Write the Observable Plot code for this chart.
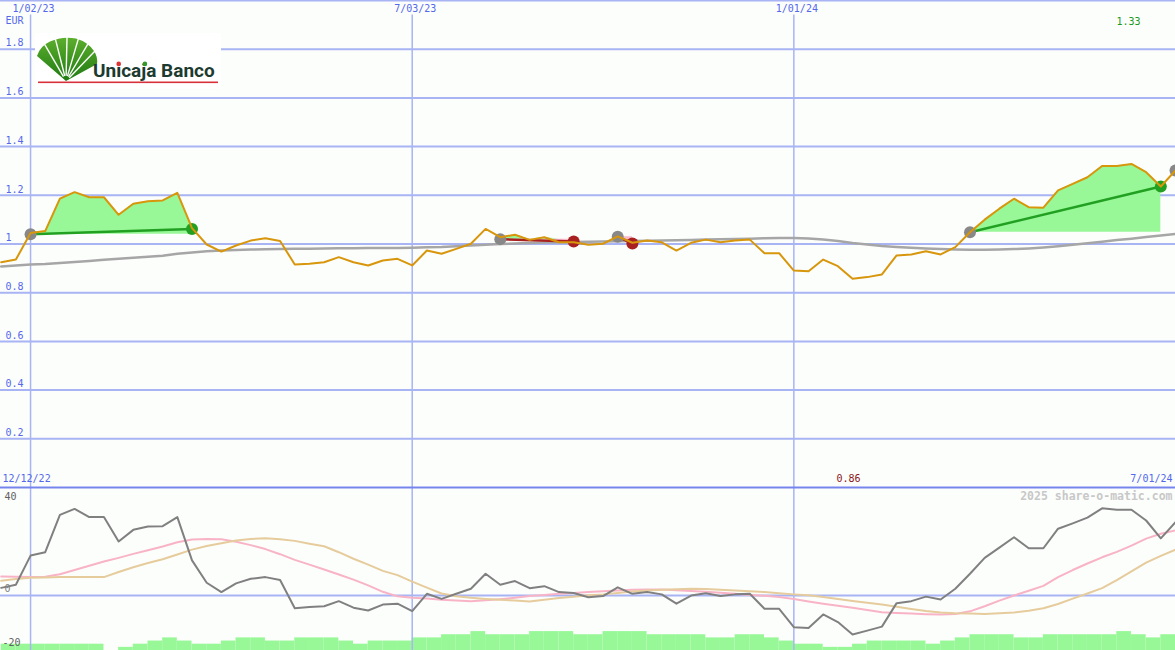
<!DOCTYPE html>
<html>
<head>
<meta charset="utf-8">
<script src="https://cdn.jsdelivr.net/npm/d3@7"></script>
<script src="https://cdn.jsdelivr.net/npm/@observablehq/plot@0.6"></script>
<style>
  html, body { margin: 0; padding: 0; background: #fcfefc; }
  #chart { position: relative; width: 1175px; height: 650px; overflow: hidden; background: #fcfefc; }
  #chart > svg, #chart > div { position: absolute; left: 0; }
</style>
</head>
<body>
<div id="chart"></div>
<script>
// ---------- DATA (weekly, Mondays, from 2022-12-19 to 2024-07-01) ----------
const startWeek = "2022-12-19";
const price = [
  0.925,0.936,1.045,1.053,1.186,1.213,1.192,1.192,1.120,1.165,
  1.176,1.179,1.210,1.065,0.998,0.969,0.994,1.014,1.024,1.012,
  0.916,0.919,0.925,0.946,0.925,0.912,0.932,0.939,0.912,0.973,
  0.960,0.980,1.001,1.062,1.028,1.038,1.017,1.028,1.007,1.007,
  0.997,1.001,1.031,1.005,1.014,1.007,0.973,1.005,1.018,1.007,
  1.014,1.018,0.962,0.962,0.891,0.888,0.936,0.909,0.857,0.864,
  0.875,0.953,0.957,0.970,0.957,0.987,1.048,1.100,1.145,1.186,
  1.151,1.149,1.220,1.247,1.274,1.320,1.320,1.329,1.295,1.236,
  1.302
];
const movingAverage = [
  0.908,0.912,0.916,0.918,0.922,0.926,0.930,0.935,0.939,0.944,
  0.948,0.952,0.960,0.965,0.970,0.973,0.975,0.977,0.978,0.979,
  0.980,0.981,0.982,0.983,0.983,0.984,0.984,0.984,0.985,0.987,
  0.988,0.991,0.994,0.997,1.000,1.002,1.004,1.006,1.007,1.008,
  1.009,1.010,1.011,1.012,1.013,1.014,1.015,1.016,1.018,1.019,
  1.021,1.022,1.024,1.025,1.025,1.023,1.018,1.012,1.004,0.998,
  0.992,0.988,0.985,0.982,0.979,0.977,0.976,0.976,0.977,0.979,
  0.982,0.986,0.991,0.997,1.003,1.009,1.016,1.022,1.029,1.035,
  1.041
];
const oscillator = [
  2.7,3.8,14.1,15.3,28.5,30.6,27.7,27.7,19.1,23.2,
  24.4,24.5,27.7,12.4,4.5,1.2,4.3,5.9,6.5,5.5,
  -4.5,-4.1,-3.8,-2.0,-4.3,-5.3,-3.2,-2.9,-5.5,0.6,
  -1.2,0.6,2.4,7.7,3.8,5.1,2.6,3.3,1.2,0.9,
  -0.6,-0.2,2.9,0.6,1.2,0.4,-2.9,0.0,0.8,-0.2,
  0.4,0.6,-4.7,-4.7,-11.2,-11.5,-6.7,-9.4,-13.8,-12.4,
  -11.0,-2.7,-2.0,-0.4,-1.4,2.4,7.7,13.3,16.9,20.6,
  16.7,16.7,23.6,25.5,27.5,30.8,30.3,30.3,26.5,20.2,
  25.9
];
const oscFast = [
  6.7,6.6,6.5,6.6,7.5,9.0,10.5,12.0,13.3,14.7,
  16.0,17.3,18.8,19.8,20.0,19.9,19.0,17.8,16.4,14.6,
  12.6,10.9,9.2,7.4,5.6,3.6,1.3,-0.3,-0.8,-1.1,
  -1.5,-1.8,-2.0,-1.7,-1.3,-0.8,-0.2,0.2,0.6,0.9,
  1.2,1.5,1.8,2.0,2.1,2.1,1.9,1.6,1.3,1.0,
  0.6,0.2,-0.1,-0.5,-1.2,-2.1,-2.9,-3.6,-4.3,-5.1,
  -5.9,-6.2,-6.4,-6.6,-6.7,-6.5,-5.6,-3.8,-1.8,0.0,
  1.7,3.4,6.5,9.0,11.3,13.5,15.4,17.6,20.1,21.8,
  23.0
];
const oscSlow = [
  5.2,5.8,6.3,6.4,6.5,6.5,6.5,6.5,8.3,10.0,
  11.5,12.8,14.5,16.2,17.5,18.5,19.4,20.0,20.2,19.9,
  19.3,18.3,17.4,15.3,13.0,10.9,8.7,7.2,4.9,2.8,
  0.7,-0.3,-0.8,-1.2,-1.5,-1.8,-2.1,-1.5,-0.9,-0.4,
  0.1,0.4,0.9,1.4,1.8,2.0,2.2,2.4,2.3,2.0,
  1.8,1.5,1.2,0.8,0.4,0.1,-0.5,-1.2,-1.9,-2.6,
  -3.2,-4.0,-4.8,-5.5,-6.0,-6.3,-6.4,-6.5,-6.3,-6.0,
  -5.4,-4.5,-3.0,-1.1,0.7,2.6,5.4,8.5,11.6,14.0,
  16.2
];
const volume = [
  2,2,2,2,2,2,2,0,1,2,
  3,4,3,2,2,3,4,4,3,3,
  4,4,4,3,2,3,3,3,4,4,
  5,5,6,5,5,5,6,6,6,5,
  5,6,6,6,5,5,5,5,4,4,
  5,5,4,3,2,2,1,1,2,3,
  3,3,3,2,3,4,5,5,5,4,
  4,5,5,5,5,5,6,5,4,5,
  5
];
// trades: entry/exit week index and price (exit null = still open)
const tradeEntryIndex = [2, 34, 42, 66, 80];
const tradeEntryPrice = [1.040, 1.020, 1.030, 1.048, 1.302];
const tradeExitIndex  = [13, 39, 43, 79, null];
const tradeExitPrice  = [1.062, 1.010, 1.002, 1.236, null];

const priceTicks = [0.2, 0.4, 0.6, 0.8, 1.0, 1.2, 1.4, 1.6, 1.8];
const priceTickLabels = ["0.2","0.4","0.6","0.8","1","1.2","1.4","1.6","1.8"];
const dateTicks = ["2023-01-02", "2023-07-03", "2024-01-01"];
const dateTickLabels = ["1/02/23", "7/03/23", "1/01/24"];
const rangeLabels = ["12/12/22", "7/01/24"];
const oscTickLabels = ["40", "0", "-20"];
const currency = "EUR";
const watermark = "2025 share-o-matic.com";
const logoText = "Unicaja Banco";

// ---------- BUILD ----------
const mono = "DejaVu Sans Mono, monospace";
const blueText = "#5468ec";
const gridBlue = "#a8b4f4";
const W = 1175, H_TOP = 487, H_BOT = 163;
const xDomain = [new Date("2022-12-18T16:00:00Z"), new Date("2024-07-01T00:00:00Z")];
const dateTickDates = dateTicks.map(d => new Date(d + "T00:00:00Z"));
const weeks = price.map((_, i) => d3.utcDay.offset(new Date(startWeek + "T00:00:00Z"), 7 * i));
const rows = weeks.map((date, i) => ({
  date, next: d3.utcDay.offset(date, 7),
  price: price[i], ma: movingAverage[i], osc: oscillator[i],
  fast: oscFast[i], slow: oscSlow[i], vol: volume[i]
}));
const trades = tradeEntryIndex.map((i0, j) => ({
  i0, p0: tradeEntryPrice[j], i1: tradeExitIndex[j], p1: tradeExitPrice[j],
  d0: weeks[i0], d1: tradeExitIndex[j] == null ? null : weeks[tradeExitIndex[j]]
}));
const closed = trades.filter(t => t.i1 != null);
const winColor = "#22a022", lossColor = "#a82020";

const areaMarks = closed.flatMap(t => {
  const seg = rows.slice(t.i0, t.i1 + 1);
  return [
    Plot.areaY(seg, {x: "date", y1: () => t.p0, y2: d => Math.max(d.price, t.p0), fill: "#98f898"}),
    Plot.areaY(seg, {x: "date", y1: () => t.p0, y2: d => Math.min(d.price, t.p0), fill: "#f8b8c8"})
  ];
});

const maxRow = rows.reduce((a, b) => b.price > a.price ? b : a);
const minRow = rows.reduce((a, b) => b.price < a.price ? b : a);
const fmt2 = d3.format(".2f");

const topPlot = Plot.plot({
  width: W, height: H_TOP,
  marginTop: 0, marginRight: 0, marginBottom: 0, marginLeft: 0,
  style: {background: "transparent", overflow: "visible"},
  x: {type: "utc", domain: xDomain, axis: null},
  y: {domain: [0, 2], axis: null},
  marks: [
    Plot.ruleY(priceTicks, {stroke: gridBlue, strokeWidth: 2}),
    Plot.ruleY([2], {stroke: gridBlue, strokeWidth: 2}),
    Plot.ruleX(dateTickDates, {y1: 0, y2: 1.94, stroke: gridBlue, strokeWidth: 1.5}),
    ...areaMarks,
    Plot.line(rows, {x: "date", y: "ma", stroke: "#a6a6a6", strokeWidth: 2.5}),
    Plot.link(closed, {x1: "d0", y1: "p0", x2: "d1", y2: "p1",
      stroke: t => t.p1 >= t.p0 ? winColor : lossColor, strokeWidth: 2.5}),
    Plot.dot(closed, {x: "d1", y: "p1", r: 6, fill: t => t.p1 >= t.p0 ? winColor : lossColor}),
    Plot.dot(trades, {x: "d0", y: "p0", r: 6, fill: "#888888"}),
    Plot.line(rows, {x: "date", y: "price", stroke: "#d8960c", strokeWidth: 2}),
    Plot.ruleY([0], {stroke: "#7684ee", strokeWidth: 2}),
    // axis labels
    Plot.text(priceTicks, {x: () => xDomain[0], y: d => d, text: (d, i) => priceTickLabels[i],
      dx: 5, dy: -6, textAnchor: "start", fill: blueText, fontSize: 10, fontFamily: mono}),
    Plot.text([currency], {x: () => xDomain[0], y: () => 2, text: d => d,
      dx: 5, dy: 20, textAnchor: "start", fill: blueText, fontSize: 10, fontFamily: mono}),
    Plot.text(dateTickDates, {x: d => d, y: () => 2, text: (d, i) => dateTickLabels[i],
      dx: 3, dy: 8, textAnchor: "middle", fill: blueText, fontSize: 10, fontFamily: mono}),
    Plot.text([rangeLabels[0]], {x: () => xDomain[0], y: () => 0, text: d => d,
      dx: 2, dy: -9, textAnchor: "start", fill: blueText, fontSize: 10, fontFamily: mono}),
    Plot.text([rangeLabels[1]], {x: () => xDomain[1], y: () => 0, text: d => d,
      dx: -3, dy: -9, textAnchor: "end", fill: blueText, fontSize: 10, fontFamily: mono}),
    Plot.text([maxRow], {x: "date", y: () => 2, text: d => fmt2(d.price),
      dx: -3, dy: 21, textAnchor: "middle", fill: "#1c9a1c", fontSize: 10, fontFamily: mono}),
    Plot.text([minRow], {x: "date", y: () => 0, text: d => fmt2(d.price),
      dx: -4, dy: -9, textAnchor: "middle", fill: "#8c1818", fontSize: 10, fontFamily: mono})
  ]
});

const oscDomain = [-19.43, 38.16];
const volPlot = Plot.plot({
  width: W, height: H_BOT,
  marginTop: 0, marginRight: 0, marginBottom: 0, marginLeft: 0,
  style: {background: "transparent"},
  x: {type: "utc", domain: xDomain, axis: null},
  y: {domain: [0, 51.7], axis: null},
  marks: [
    Plot.rectY(rows, {x1: "date", x2: "next", y: "vol", fill: "#98f898", inset: 0})
  ]
});

const botPlot = Plot.plot({
  width: W, height: H_BOT,
  marginTop: 0, marginRight: 0, marginBottom: 0, marginLeft: 0,
  style: {background: "transparent", overflow: "visible"},
  x: {type: "utc", domain: xDomain, axis: null},
  y: {domain: oscDomain, axis: null},
  marks: [
    Plot.ruleY([0], {stroke: gridBlue, strokeWidth: 2}),
    Plot.ruleX(dateTickDates, {stroke: gridBlue, strokeWidth: 1.5}),
    Plot.line(rows, {x: "date", y: "fast", stroke: "#f8b4c6", strokeWidth: 2}),
    Plot.line(rows, {x: "date", y: "slow", stroke: "#e6cc9c", strokeWidth: 2}),
    Plot.line(rows, {x: "date", y: "osc", stroke: "#808080", strokeWidth: 2}),
    Plot.text([oscTickLabels[0]], {x: () => xDomain[0], y: () => oscDomain[1], text: d => d,
      dx: 4, dy: 9, textAnchor: "start", fill: "#606060", fontSize: 10, fontFamily: mono}),
    Plot.text([oscTickLabels[1]], {x: () => xDomain[0], y: () => 0, text: d => d,
      dx: 4, dy: -7, textAnchor: "start", fill: "#808080", fontSize: 10, fontFamily: mono}),
    Plot.text([oscTickLabels[2]], {x: () => xDomain[0], y: () => oscDomain[0], text: d => d,
      dx: 2, dy: -8, textAnchor: "start", fill: "#606060", fontSize: 10, fontFamily: mono}),
    Plot.text([watermark], {x: () => xDomain[1], y: () => oscDomain[1], text: d => d,
      dx: -3, dy: 9, textAnchor: "end", fill: "#c8c8c8", fontSize: 11.5, fontWeight: "bold", fontFamily: mono})
  ]
});

const chart = document.getElementById("chart");
topPlot.style.top = "0px";
volPlot.style.top = H_TOP + "px";
botPlot.style.top = H_TOP + "px";
chart.appendChild(volPlot);
chart.appendChild(botPlot);
chart.appendChild(topPlot);

// ---------- LOGO (decorative) ----------
const apex = [66, 81];
const rayEnds = [[45, 45], [55.5, 39.5], [67, 37.8], [78, 40], [87, 45.5], [93, 53]];
const rays = rayEnds.map(([x, y]) => {
  const sx = apex[0] + (x - apex[0]) * 0.12, sy = apex[1] + (y - apex[1]) * 0.12;
  return `<line x1="${sx}" y1="${sy}" x2="${x + (x - apex[0]) * 0.1}" y2="${y + (y - apex[1]) * 0.1}" stroke="#ffffff" stroke-width="1.4"/>`;
}).join("");
const logo = document.createElement("div");
logo.style.top = "0px";
logo.style.width = "240px";
logo.innerHTML = `
<svg width="240" height="100" xmlns="http://www.w3.org/2000/svg" style="overflow:visible">
  <defs>
    <linearGradient id="fan" x1="0" y1="0" x2="0" y2="1">
      <stop offset="0" stop-color="#5cae2c"/>
      <stop offset="1" stop-color="#1f7a12"/>
    </linearGradient>
  </defs>
  <rect x="35" y="33" width="186" height="56" fill="#ffffff"/>
  <path d="M66,81 L37,56 Q40,46 50,41.5 Q62,36 76,38.5 Q88,42 94,51 Q98,57 97,64 Z" fill="url(#fan)"/>
  ${rays}
  <text id="logotext" x="93" y="76.5" font-family="Roboto, Liberation Sans, sans-serif" font-weight="700" font-size="19"
        fill="#1d3b30">${logoText}</text>
  <rect x="38" y="81.5" width="180" height="1.6" fill="#d8303a"/>
</svg>`;
chart.appendChild(logo);
// coloured dots over the "i" and "j" of the logo word
const lt = logo.querySelector("#logotext");
try {
  const svgNS = "http://www.w3.org/2000/svg";
  [[2, "#e03434", 0], [5, "#2e9a2e", 1.2]].forEach(([idx, col, shift]) => {
    const e = lt.getExtentOfChar(idx);
    const c = document.createElementNS(svgNS, "circle");
    c.setAttribute("cx", e.x + e.width / 2 + shift);
    c.setAttribute("cy", 76.5 - 12.6);
    c.setAttribute("r", 2.3);
    c.setAttribute("fill", col);
    lt.parentNode.appendChild(c);
  });
} catch (err) {}
</script>
</body>
</html>
